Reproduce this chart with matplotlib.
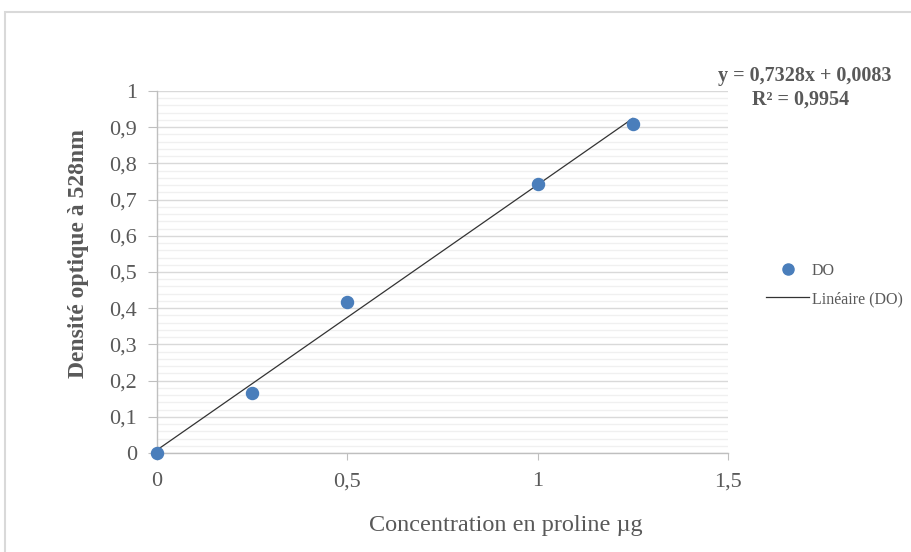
import numpy as np
import matplotlib.pyplot as plt
from matplotlib.ticker import MultipleLocator, FuncFormatter
from matplotlib.lines import Line2D
from matplotlib.patches import Rectangle

# données
concentration = [0, 0.25, 0.5, 1.0, 1.25]
do = [0.0, 0.167, 0.418, 0.742, 0.908]
pente = 0.7328
ordonnee = 0.0083
r2 = 0.9954

plt.rcParams['font.family'] = ['Liberation Serif', 'DejaVu Serif']

fig = plt.figure(figsize=(9.12, 5.52), dpi=100)
fig.patches.append(Rectangle((5 / 912, -0.01), 1.0, 1 - 12 / 552 + 0.01,
                             transform=fig.transFigure, fill=False,
                             edgecolor='#d9d9d9', linewidth=1.5))

ax = fig.add_axes([157 / 912, 1 - 453 / 552, (728 - 157) / 912, (453 - 91) / 552])

gris = '#595959'

ax.scatter(concentration, do, s=75, color='#4a7ebb', zorder=3, clip_on=False)
xs = np.array([min(concentration), max(concentration)])
ax.plot(xs, pente * xs + ordonnee, color='#333333', linewidth=0.9, zorder=2)

ax.set_xlim(0, 1.5)
ax.set_ylim(0, 1)
ax.xaxis.set_major_locator(MultipleLocator(0.5))
ax.yaxis.set_major_locator(MultipleLocator(0.1))
ax.yaxis.set_minor_locator(MultipleLocator(0.02))

virgule = FuncFormatter(lambda v, p: ('%g' % round(v, 2)).replace('.', ','))
ax.xaxis.set_major_formatter(virgule)
ax.yaxis.set_major_formatter(virgule)

ax.grid(True, which='major', axis='y', color='#d9d9d9', linewidth=1.0, zorder=0)
ax.grid(True, which='minor', axis='y', color='#f0f0f0', linewidth=1.0, zorder=0)
ax.set_axisbelow(True)

for s in ['top', 'right']:
    ax.spines[s].set_visible(False)
for s in ['left', 'bottom']:
    ax.spines[s].set_color('#bfbfbf')
    ax.spines[s].set_linewidth(1.0)

ax.tick_params(axis='both', which='major', colors='#bfbfbf', labelcolor=gris,
               labelsize=16)
ax.tick_params(axis='y', which='minor', length=0)
ax.tick_params(axis='x', pad=9, length=5)
ax.tick_params(axis='y', pad=8, length=6.5)

ax.set_xlabel('Concentration en proline µg', fontsize=17.5, color=gris)
ax.xaxis.set_label_coords(0.611, -0.199)
ax.xaxis.label.set_va('center')
ax.set_ylabel('Densité optique à 528nm', fontsize=17, color=gris, fontweight='bold')
ax.yaxis.set_label_coords(-0.137, 0.552)
ax.yaxis.label.set_va('center')

fig.text(805 / 912, 1 - 76 / 552,
         'y = %s' % ('%.4fx + %.4f' % (pente, ordonnee)).replace('.', ','),
         ha='center', va='center', fontsize=14.5, fontweight='bold', color=gris)
fig.text(801 / 912, 1 - 100 / 552, 'R² = %s' % ('%.4f' % r2).replace('.', ','),
         ha='center', va='center', fontsize=14.5, fontweight='bold', color=gris)

poignees = [Line2D([], [], marker='o', linestyle='none', color='#4a7ebb', markersize=8),
            Line2D([], [], color='#333333', linewidth=0.9)]
fig.legend(poignees, ['DO', 'Linéaire (DO)'], loc='center left',
           bbox_to_anchor=(752 / 912, 1 - 285 / 552), frameon=False,
           fontsize=11.5, labelcolor=gris, handlelength=2.7, handletextpad=0.15,
           labelspacing=0.75)

fig.savefig('out.png', dpi=100)
